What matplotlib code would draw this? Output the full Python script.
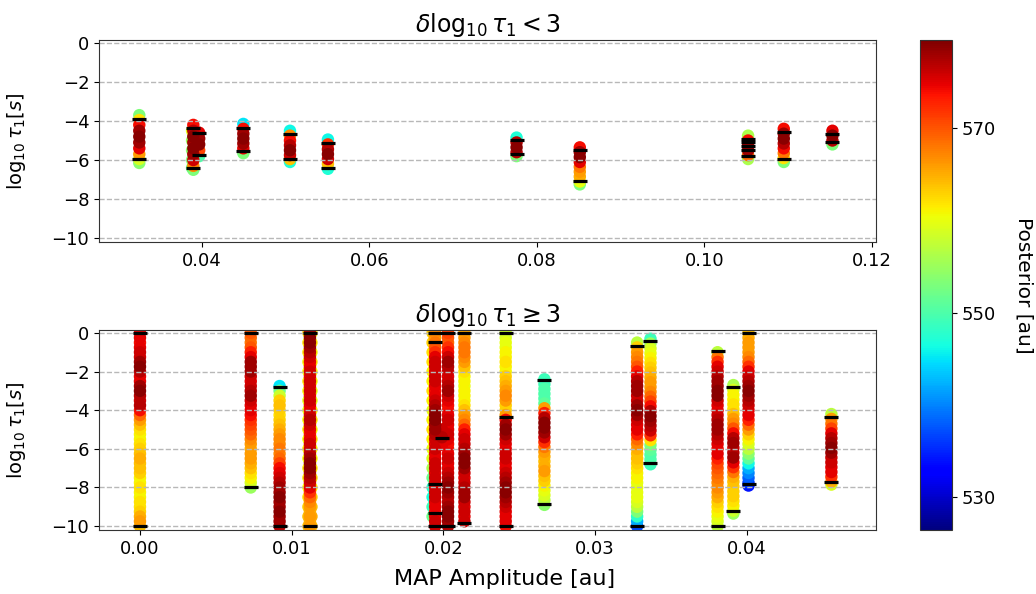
import numpy as np
import matplotlib
matplotlib.use("Agg")
import matplotlib.pyplot as plt
from matplotlib.colors import Normalize

# ---------------- data ----------------
post_min, post_max = 526.4, 579.6
cbar_ticks = [530, 550, 570]
y_ticks = [0, -2, -4, -6, -8, -10]
top_xticks = [0.04, 0.06, 0.08, 0.10, 0.12]
bot_xticks = [0.00, 0.01, 0.02, 0.03, 0.04]

# top panel: delta log10 tau1 < 3
top_x = [0.03255, 0.03885, 0.0390, 0.0397, 0.04497, 0.05054, 0.05507,
         0.07759, 0.08514, 0.10523, 0.10949, 0.1153]
top_marks = [[-3.9, -5.96], [], [-4.35, -6.41], [-4.62, -5.73], [-4.35, -5.52],
             [-4.69, -5.96], [-5.14, -6.41], [-4.98, -5.67], [-5.48, -7.07],
             [-4.9, -5.1, -5.3, -5.48, -5.79], [-4.55, -5.96], [-4.69, -5.07]]
top_y = [
    [-3.7, -3.95, -4.2, -4.5, -4.8, -5.1, -5.4, -5.7, -5.95, -6.15],
    [-4.5, -5.0, -5.5, -6.0, -6.4],
    [-4.2, -4.5, -4.8, -5.1, -5.4, -5.7, -6.0, -6.3, -6.5],
    [-4.6, -4.9, -5.2, -5.5, -5.8],
    [-4.15, -4.4, -4.65, -4.9, -5.15, -5.4, -5.65],
    [-4.5, -4.75, -5.0, -5.25, -5.5, -5.75, -5.95, -6.1],
    [-4.95, -5.2, -5.45, -5.7, -5.95, -6.2, -6.45],
    [-4.85, -5.1, -5.35, -5.6, -5.8],
    [-5.35, -5.6, -5.85, -6.1, -6.35, -6.6, -6.85, -7.1, -7.25],
    [-4.75, -5.0, -5.25, -5.5, -5.75, -5.95],
    [-4.4, -4.65, -4.9, -5.15, -5.4, -5.65, -5.9, -6.1],
    [-4.5, -4.75, -5.0, -5.2],
]
top_c = [
    [553, 562, 574, 578, 579, 578, 575, 566, 559, 554],
    [560, 555, 554, 553, 552],
    [574, 577, 579, 578, 579, 578, 576, 567, 553],
    [575, 578, 579, 571, 550],
    [545, 574, 578, 579, 578, 575, 553],
    [546, 567, 574, 577, 579, 576, 564, 547],
    [546, 572, 577, 579, 576, 564, 547],
    [547, 577, 579, 577, 553],
    [574, 578, 579, 575, 568, 566, 565, 560, 553],
    [556, 574, 578, 578, 569, 556],
    [574, 578, 579, 577, 574, 568, 562, 553],
    [575, 579, 577, 553],
]

# bottom panel: delta log10 tau1 >= 3
bot_x = [0.0000, 0.0073, 0.0092, 0.01110, 0.01130, 0.0112,
         0.01928, 0.01945, 0.0199, 0.0203, 0.02138, 0.0241, 0.02665,
         0.03276, 0.03364, 0.03806, 0.0391, 0.0401, 0.04556]
bot_marks = [[0, -10], [0, -8.0], [-2.8, -10], [], [], [0, -10],
             [], [0, -0.45, -7.83, -9.3, -10], [-5.42], [0, -10], [0, -9.83],
             [0, -4.33, -10], [-2.45, -8.85],
             [-0.69, -9.97], [-0.4, -6.75], [-0.96, -9.97], [-2.8, -9.23],
             [0, -7.8], [-4.34, -7.71]]

y_full = [0, -0.25, -0.5, -0.75, -1.0, -1.25, -1.5, -1.75, -2.0, -2.25, -2.5,
          -2.75, -3.0, -3.25, -3.5, -3.75, -4.0, -4.25, -4.5, -4.75, -5.0,
          -5.25, -5.5, -5.75, -6.0, -6.25, -6.5, -6.75, -7.0, -7.25, -7.5,
          -7.75, -8.0, -8.25, -8.5, -8.75, -9.0, -9.25, -9.5, -9.75, -10.0]
y_half = [0, -0.5, -1.0, -1.5, -2.0, -2.5, -3.0, -3.5, -4.0, -4.5, -5.0, -5.5,
          -6.0, -6.5, -7.0, -7.5, -8.0, -8.5, -9.0, -9.5, -10.0]

bot_y = [
    y_full,
    [0, -0.25, -0.5, -0.75, -1.0, -1.25, -1.5, -1.75, -2.0, -2.25, -2.5,
     -2.75, -3.0, -3.25, -3.5, -3.75, -4.0, -4.25, -4.5, -4.75, -5.0, -5.25,
     -5.5, -5.75, -6.0, -6.25, -6.5, -6.75, -7.0, -7.25, -7.5, -7.75, -8.0],
    [-2.75, -3.0, -3.25, -3.5, -3.75, -4.0, -4.25, -4.5, -4.75, -5.0, -5.25,
     -5.5, -5.75, -6.0, -6.25, -6.5, -6.75, -7.0, -7.25, -7.5, -7.75, -8.0,
     -8.25, -8.5, -8.75, -9.0, -9.25, -9.5, -9.75, -10.0],
    y_half,
    y_half,
    y_full,
    [0, -0.5, -1.0, -1.5, -2.0, -2.5, -3.0, -3.5, -4.0, -4.5, -5.0, -5.5,
     -6.0, -6.5, -7.0, -7.5, -8.0, -8.5, -9.0, -9.5],
    y_full,
    [-5.0, -5.4, -5.8],
    y_full,
    [0, -0.25, -0.5, -0.75, -1.0, -1.25, -1.5, -1.75, -2.0, -2.25, -2.5,
     -2.75, -3.0, -3.25, -3.5, -3.75, -4.0, -4.25, -4.5, -4.75, -5.0, -5.25,
     -5.5, -5.75, -6.0, -6.25, -6.5, -6.75, -7.0, -7.25, -7.5, -7.75, -8.0,
     -8.25, -8.5, -8.75, -9.0, -9.25, -9.5, -9.75],
    y_full,
    [-2.4, -2.65, -2.9, -3.15, -3.4, -3.65, -3.9, -4.15, -4.4, -4.65, -4.9,
     -5.15, -5.4, -5.65, -5.9, -6.15, -6.4, -6.65, -6.9, -7.15, -7.4, -7.65,
     -7.9, -8.15, -8.4, -8.65, -8.9],
    [-0.5, -0.75, -1.0, -1.25, -1.5, -1.75, -2.0, -2.25, -2.5, -2.75, -3.0,
     -3.25, -3.5, -3.75, -4.0, -4.25, -4.5, -4.75, -5.0, -5.25, -5.5, -5.75,
     -6.0, -6.25, -6.5, -6.75, -7.0, -7.25, -7.5, -7.75, -8.0, -8.25, -8.5,
     -8.75, -9.0, -9.25, -9.5, -9.75, -10.0],
    [-0.3, -0.55, -0.8, -1.05, -1.3, -1.55, -1.8, -2.05, -2.3, -2.55, -2.8,
     -3.05, -3.3, -3.55, -3.8, -4.05, -4.3, -4.55, -4.8, -5.05, -5.3, -5.55,
     -5.8, -6.05, -6.3, -6.55, -6.8],
    [-1.0, -1.25, -1.5, -1.75, -2.0, -2.25, -2.5, -2.75, -3.0, -3.25, -3.5,
     -3.75, -4.0, -4.25, -4.5, -4.75, -5.0, -5.25, -5.5, -5.75, -6.0, -6.25,
     -6.5, -6.75, -7.0, -7.25, -7.5, -7.75, -8.0, -8.25, -8.5, -8.75, -9.0,
     -9.25, -9.5, -9.75, -10.0],
    [-2.7, -2.95, -3.2, -3.45, -3.7, -3.95, -4.2, -4.45, -4.7, -4.95, -5.2,
     -5.45, -5.7, -5.95, -6.2, -6.45, -6.7, -6.95, -7.2, -7.45, -7.7, -7.95,
     -8.2, -8.45, -8.7, -8.95, -9.2, -9.35],
    [0, -0.25, -0.5, -0.75, -1.0, -1.25, -1.5, -1.75, -2.0, -2.25, -2.5,
     -2.75, -3.0, -3.25, -3.5, -3.75, -4.0, -4.25, -4.5, -4.75, -5.0, -5.25,
     -5.5, -5.75, -6.0, -6.25, -6.5, -6.75, -7.0, -7.25, -7.5, -7.75, -7.9],
    [-4.2, -4.45, -4.7, -4.95, -5.2, -5.45, -5.7, -5.95, -6.2, -6.45, -6.7,
     -6.95, -7.2, -7.45, -7.7, -7.85],
]
bot_c = [
    [575, 575, 574, 575, 576, 576, 578, 579, 577, 575, 575, 578, 579, 577, 576,
     577, 574, 569, 566, 564, 562, 561, 561, 562, 563, 564, 565, 564, 564, 563,
     561, 561, 562, 561, 561, 562, 562, 563, 565, 566, 564],
    [570, 569, 568, 570, 573, 575, 578, 578, 578, 576, 575, 576, 577, 578, 576,
     575, 575, 574, 572, 571, 570, 569, 567, 566, 565, 566, 566, 565, 564, 562,
     561, 559, 555],
    [545, 552, 558, 563, 564, 563, 562, 563, 564, 565, 566, 567, 567, 568, 567,
     569, 571, 574, 575, 576, 577, 578, 578, 579, 578, 578, 579, 578, 578, 577],
    [563, 562, 562, 561, 561, 562, 561, 560, 560, 561, 562, 561, 562, 561, 562,
     562, 561, 562, 563, 564, 564],
    [562, 562, 561, 562, 561, 561, 560, 560, 561, 562, 561, 562, 561, 561, 562,
     563, 562, 563, 564, 565, 564],
    [578, 579, 579, 578, 577, 576, 575, 575, 576, 575, 576, 575, 576, 575, 576,
     575, 574, 576, 577, 576, 575, 574, 575, 576, 576, 577, 578, 579, 579, 578,
     577, 576, 575, 572, 569, 567, 566, 565, 566, 565, 566],
    [563, 563, 562, 562, 561, 561, 562, 561, 560, 561, 562, 561, 560, 559, 556,
     552, 548, 547, 549, 552],
    [567, 566, 568, 570, 572, 575, 576, 576, 575, 576, 576, 575, 574, 575, 576,
     577, 578, 579, 579, 578, 578, 577, 576, 575, 576, 575, 575, 576, 576, 575,
     576, 575, 575, 576, 576, 575, 575, 574, 575, 576, 576],
    [576, 577, 575],
    [571, 570, 569, 572, 574, 576, 578, 577, 576, 575, 576, 577, 578, 576, 575,
     574, 574, 575, 576, 575, 575, 576, 575, 574, 574, 575, 576, 575, 575, 576,
     577, 578, 579, 578, 577, 577, 578, 579, 579, 578, 577],
    [565, 566, 567, 568, 568, 567, 566, 564, 562, 561, 561, 560, 561, 561, 561,
     562, 564, 566, 567, 569, 573, 575, 576, 576, 577, 578, 579, 579, 578, 576,
     575, 576, 577, 578, 578, 576, 575, 576, 575, 576],
    [558, 559, 560, 560, 561, 561, 562, 561, 561, 563, 564, 565, 566, 567, 566,
     563, 563, 566, 574, 578, 579, 578, 576, 575, 575, 576, 576, 575, 575, 576,
     577, 578, 579, 579, 578, 577, 576, 575, 575, 575, 574],
    [549, 549, 550, 550, 550, 551, 566, 573, 577, 579, 579, 578, 576, 572, 568,
     566, 565, 564, 565, 566, 564, 563, 561, 560, 559, 557, 554],
    [557, 563, 566, 567, 568, 570, 573, 575, 577, 578, 578, 576, 576, 578, 579,
     578, 576, 575, 575, 573, 569, 567, 565, 564, 564, 563, 562, 561, 561, 560,
     560, 560, 560, 559, 557, 553, 548, 542, 537],
    [549, 555, 559, 560, 561, 562, 563, 564, 565, 566, 566, 567, 569, 571, 574,
     577, 579, 578, 577, 576, 572, 562, 553, 551, 550, 550, 549],
    [557, 568, 572, 575, 576, 577, 578, 578, 579, 579, 576, 575, 575, 576, 577,
     578, 578, 577, 576, 575, 574, 575, 573, 571, 570, 569, 568, 567, 567, 566,
     565, 563, 562, 561, 560, 559, 557],
    [556, 559, 561, 561, 562, 562, 564, 566, 567, 570, 574, 577, 578, 576, 577,
     578, 575, 572, 568, 565, 564, 563, 563, 563, 562, 561, 558, 555],
    [564, 565, 566, 566, 566, 567, 569, 572, 575, 576, 577, 578, 579, 578, 577,
     576, 575, 575, 573, 569, 566, 563, 561, 559, 557, 554, 551, 546, 542, 540,
     538, 536, 534],
    [557, 566, 568, 571, 575, 577, 578, 579, 578, 576, 576, 575, 575, 572, 565,
     559],
]

# ---------------- plotting ----------------
plt.rcParams["font.family"] = ["DejaVu Sans"]
plt.rcParams["font.size"] = 13

W, H = 1036, 594
fig = plt.figure(figsize=(W / 100, H / 100), dpi=100)


def frac(l, t, r, b):
    return [l / W, 1 - b / H, (r - l) / W, (b - t) / H]


ax_top = fig.add_axes(frac(99, 40, 876, 242))
ax_bot = fig.add_axes(frac(99, 330, 876, 530))
cax = fig.add_axes(frac(920, 40, 952, 530))

norm = Normalize(vmin=post_min, vmax=post_max)
cmap = plt.get_cmap("jet")


def draw(ax, xs, ys, cs, marks):
    px, py, pc = [], [], []
    for x, yl, cl in zip(xs, ys, cs):
        px += [x] * len(yl)
        py += list(yl)
        pc += list(cl)
    px, py, pc = np.array(px), np.array(py), np.array(pc)
    order = np.argsort(pc, kind="stable")
    sc = ax.scatter(px[order], py[order], c=pc[order], cmap=cmap, norm=norm,
                    s=80, edgecolors="none")
    for x, ml in zip(xs, marks):
        if ml:
            ax.plot([x] * len(ml), ml, linestyle="none", marker="_",
                    markersize=9.6, markeredgewidth=2.3, color="black")
    ax.set_ylim(-10.2, 0.15)
    ax.set_yticks(y_ticks)
    ax.grid(True, axis="y", linestyle="--", color="#b8b8b8", linewidth=1.0)
    ax.set_ylabel(r"$\log_{10}\tau_1 [s]$", fontsize=14)
    ax.yaxis.set_label_coords(-0.0914, 0.5)
    for sp in ax.spines.values():
        sp.set_color("#333333")
    return sc


sc = draw(ax_top, top_x, top_y, top_c, top_marks)
ax_top.set_xlim(0.02774, 0.1205)
ax_top.set_xticks(top_xticks)
ax_top.set_title(r"$\delta\log_{10}\tau_1 < 3$", fontsize=17)

draw(ax_bot, bot_x, bot_y, bot_c, bot_marks)
ax_bot.set_xlim(-0.0027, 0.0485)
ax_bot.set_xticks(bot_xticks)
ax_bot.set_title(r"$\delta\log_{10}\tau_1 \geq 3$", fontsize=17)
ax_bot.set_xlabel("MAP Amplitude [au]", fontsize=16)
ax_bot.xaxis.set_label_coords(0.5225, -0.195)

cb = fig.colorbar(sc, cax=cax)
cb.set_ticks(cbar_ticks)
cb.set_label("Posterior [au]", rotation=270, labelpad=27, fontsize=14.5)
cb.outline.set_edgecolor("#333333")

fig.savefig("out.png", dpi=100)
